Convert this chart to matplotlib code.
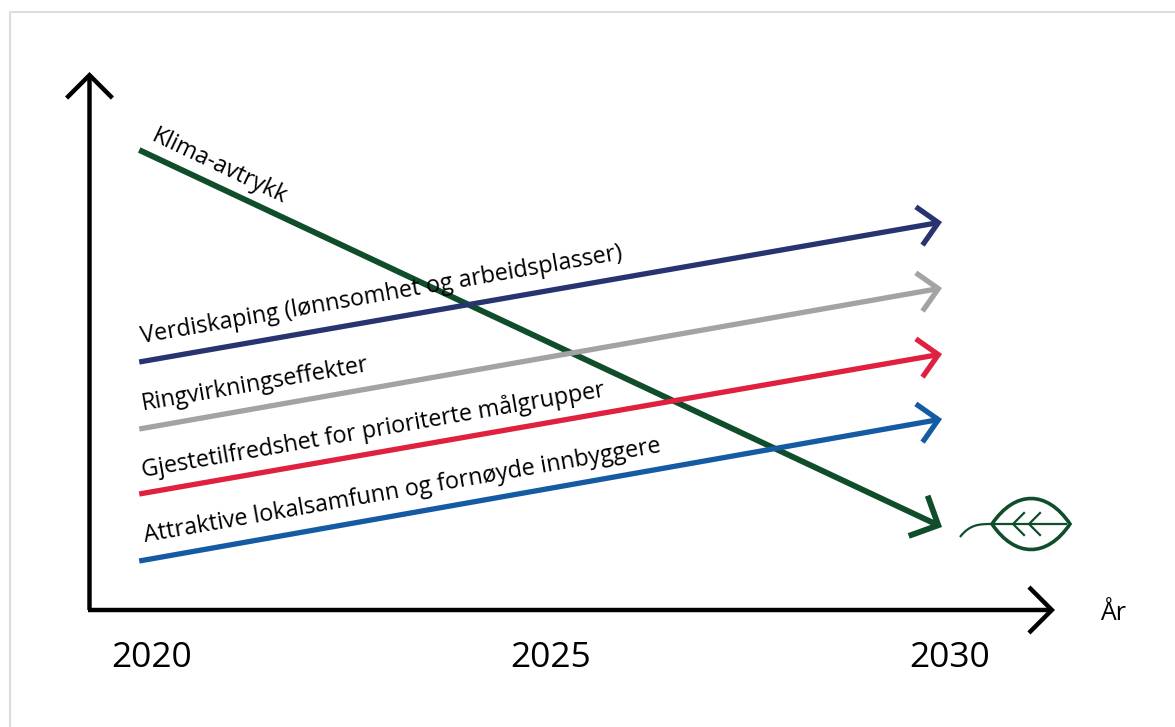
import numpy as np
from matplotlib import pyplot as plt
from matplotlib.patches import PathPatch
from matplotlib.path import Path

plt.rcParams['font.family'] = ['Open Sans', 'DejaVu Sans']

# y is an index, 0 at the bottom of the picture, 727 at the top
series_names = ["Klima-avtrykk",
                "Verdiskaping (lønnsomhet og arbeidsplasser)",
                "Ringvirkningseffekter",
                "Gjestetilfredshet for prioriterte målgrupper",
                "Attraktive lokalsamfunn og fornøyde innbyggere"]
series_colors = ["#0f4d2b", "#27346f", "#a3a3a3", "#e0203f", "#145ba3"]
start_vals = [577, 365, 298, 233, 166]
end_vals = [200, 505, 439, 373, 308]
year_start = 2019.84
year_end = 2029.90
tick_years = [2020, 2025, 2030]

fig = plt.figure(figsize=(11.75, 7.27), dpi=100)
ax = fig.add_axes([0, 0, 1, 1])
# 79.8 px per year, 2020 sits at px 152
ax.set_xlim(2020 - 152 / 79.8, 2020 + (1175 - 152) / 79.8)
ax.set_ylim(0, 727)
ax.axis('off')


def px(x):
    return 2020 + (x - 152) / 79.8


def arrow(x0, y0, x1, y1, color, lw, scale):
    ax.annotate("", xy=(x1, y1), xytext=(x0, y0),
                arrowprops=dict(arrowstyle="->,head_length=0.5,head_width=0.5", color=color, lw=lw,
                                mutation_scale=scale, shrinkA=0, shrinkB=0,
                                capstyle='butt', joinstyle='miter'))


# frame of the screenshot
ax.plot([px(10), px(10), px(1175)], [0, 715, 715], c='#dddddd', lw=1.5)

# axes
arrow(px(89.5), 117, px(89.5), 655, 'black', 3.2, 33)
arrow(px(88), 117, px(1055), 117, 'black', 3.2, 33)

for i in range(len(series_names)):
    lw = 4.2 if i == 0 else 3.8
    scale = 32 if i == 0 else 28
    arrow(year_start, start_vals[i], year_end, end_vals[i], series_colors[i], lw, scale)

label_pos = [(150, 141), (142, 343), (143, 410), (143, 477), (145, 542)]
label_rot = [-25.5, 9.9, 9.9, 9.9, 9.9]
for i in range(len(series_names)):
    ax.text(px(label_pos[i][0]), 727 - label_pos[i][1], series_names[i], rotation=label_rot[i],
            rotation_mode='anchor', ha='left', va='baseline', fontsize=16.8, color='black')

for y in tick_years:
    ax.text(y, 727 - 667, str(y), ha='center', va='baseline', fontsize=25.5, color='black')
ax.text(px(1113), 727 - 620, "År", ha='center', va='baseline', fontsize=18, color='black')

# leaf icon
leaf_col = "#0f4d2b"
leaf = Path([(px(992), 203), (px(1015), 237), (px(1047), 237), (px(1070), 203),
             (px(1047), 169), (px(1015), 169), (px(992), 203)],
            [Path.MOVETO, Path.CURVE4, Path.CURVE4, Path.CURVE4, Path.CURVE4, Path.CURVE4, Path.CURVE4])
ax.add_patch(PathPatch(leaf, fc='none', ec=leaf_col, lw=2.6))
stem = Path([(px(960), 190), (px(970), 203), (px(980), 203), (px(992), 203)],
            [Path.MOVETO, Path.CURVE4, Path.CURVE4, Path.CURVE4])
ax.add_patch(PathPatch(stem, fc='none', ec=leaf_col, lw=1.6))
ax.plot([px(992), px(1066)], [203, 203], c=leaf_col, lw=1.6)
for vx in [1013, 1029]:
    ax.plot([px(vx + 11), px(vx), px(vx + 11)], [214, 203, 192], c=leaf_col, lw=1.6)

fig.savefig("out.png", dpi=100)
